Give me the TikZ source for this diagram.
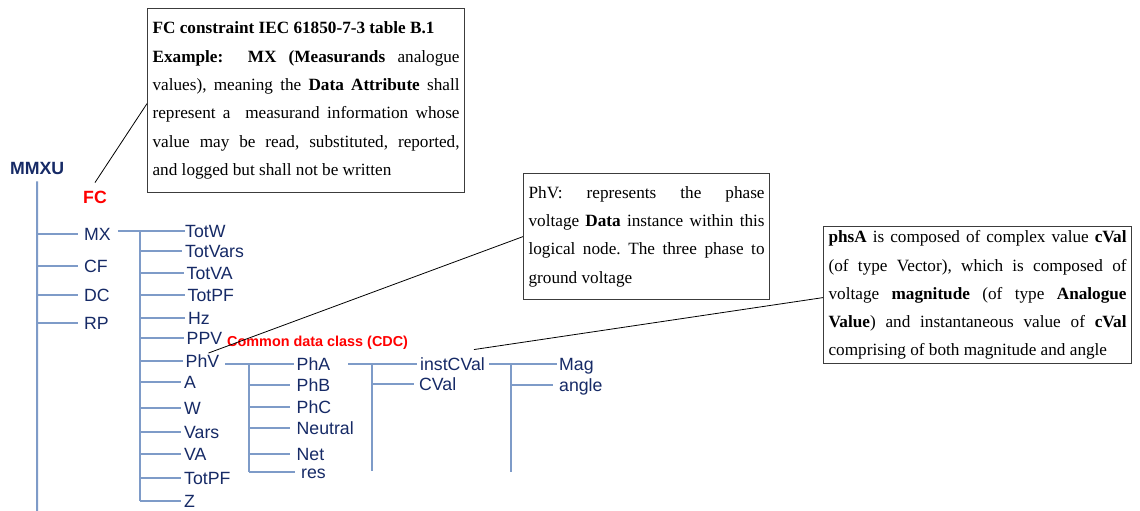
\documentclass[tikz,border=0pt]{standalone}
\usepackage{fontspec}
\setmainfont{Liberation Serif}
\setsansfont{Liberation Sans}
\definecolor{navy}{RGB}{22,42,102}
\definecolor{branch}{RGB}{126,155,200}
\definecolor{boxline}{RGB}{60,60,60}
\newcommand{\treefont}{\sffamily\fontsize{17.7}{20}\selectfont}
\newcommand{\cdcfont}{\sffamily\bfseries\fontsize{14.4}{16}\selectfont}
\newcommand{\boxfont}{\fontsize{17.2}{28.3}\selectfont\frenchspacing\tolerance=9999\hbadness=10000}
\tikzset{
  lbl/.style={font=\treefont, text=navy, inner sep=0pt, anchor=west,
              text height=12.5pt, text depth=0pt},
  br/.style={draw=branch, line width=2pt},
  lead/.style={draw=black, line width=0.8pt},
  note/.style={draw=boxline, line width=1.2pt, anchor=north west, align=justify,
               font=\boxfont, inner xsep=5pt, inner ysep=0pt},
}
\begin{document}
\begin{tikzpicture}[x=1pt,y=-1pt]
\fill[white] (0,0) rectangle (1140,511);
\useasboundingbox (0,0) rectangle (1140,511);

% root and function constraints
\node[lbl, font=\treefont\bfseries] (MMXU) at (10,168) {MMXU};
\node[lbl, font=\treefont\bfseries, text=red] (FC) at (83,197) {FC};
\node[lbl] (MX) at (84,234) {MX};
\node[lbl] (CF) at (84,266) {CF};
\node[lbl] (DC) at (84,295) {DC};
\node[lbl] (RP) at (84,323) {RP};

% data objects under MX
\node[lbl] (TotW)    at (185,231) {TotW};
\node[lbl] (TotVars) at (185,251) {TotVars};
\node[lbl] (TotVA)   at (186.5,273) {TotVA};
\node[lbl] (TotPF)   at (187.5,295) {TotPF};
\node[lbl] (Hz)      at (188,318) {Hz};
\node[lbl] (PPV)     at (186.5,338) {PPV};
\node[lbl] (PhV)     at (185.5,361) {PhV};
\node[lbl] (A)       at (184,382) {A};
\node[lbl] (W)       at (184,408) {W};
\node[lbl] (Vars)    at (184,432) {Vars};
\node[lbl] (VA)      at (184,454) {VA};
\node[lbl] (TotPFb)  at (184,478) {TotPF};
\node[lbl] (Z)       at (184,501) {Z};

% common data class label
\node[font=\cdcfont, text=red, inner sep=0pt, anchor=west] (cdc) at (227,343) {Common data class (CDC)};

% phases under PhV
\node[lbl] (PhA)     at (296.5,364) {PhA};
\node[lbl] (PhB)     at (296.5,385) {PhB};
\node[lbl] (PhC)     at (296.5,407) {PhC};
\node[lbl] (Neutral) at (296.5,428) {Neutral};
\node[lbl] (Net)     at (296.5,454) {Net};
\node[lbl] (res)     at (301,472) {res};

% attributes under PhA
\node[lbl] (instCVal) at (420,364) {instCVal};
\node[lbl] (CVal)     at (419,384) {CVal};
\node[lbl] (Mag)      at (559,364) {Mag};
\node[lbl] (angle)    at (559,385) {angle};

% tree trunks
\coordinate (v1)    at (37,0);
\coordinate (bot1)  at (37,511);
\coordinate (v2)    at (140,0);
\coordinate (v3)    at (249,0);
\coordinate (v4)    at (372,0);
\coordinate (bot4)  at (372,471);
\coordinate (v5)    at (511,0);
\coordinate (bot5)  at (511,472);

\draw[br] ([yshift=-7pt]MMXU.south) -- (bot1);
\foreach \n in {MX,CF,DC,RP}
  \draw[br] (v1 |- \n.west) -- ([xshift=-6pt]\n.west);

\draw[br] ([xshift=7pt]MX.east |- TotW.west) -- (TotW.west);
\draw[br] (v2 |- TotW.west) -- (v2 |- Z.west);
\foreach \n in {TotVars,TotVA,TotPF,Hz,PPV,PhV,A,W,Vars,VA,TotPFb,Z}
  \draw[br] (v2 |- \n.west) -- ([xshift=-3pt]\n.west);

\draw[br] ([xshift=6pt]PhV.east |- PhA.west) -- ([xshift=-3pt]PhA.west);
\draw[br] (v3 |- PhA.west) -- (v3 |- res.west);
\foreach \n in {PhB,PhC,Neutral,Net,res}
  \draw[br] (v3 |- \n.west) -- ([xshift=-6.5pt]\n.west);

\draw[br] ([xshift=18pt]PhA.east |- instCVal.west) -- ([xshift=-3pt]instCVal.west);
\draw[br] (v4 |- instCVal.west) -- (bot4);
\draw[br] (v4 |- CVal.west) -- ([xshift=-5pt]CVal.west);

\draw[br] ([xshift=4pt]instCVal.east |- Mag.west) -- ([xshift=-2pt]Mag.west);
\draw[br] (v5 |- Mag.west) -- (bot5);
\draw[br] (v5 |- angle.west) -- ([xshift=-6pt]angle.west);

% explanatory notes
\node[note, text width=307pt, minimum height=184pt] (fcbox) at (147,8)
  {\textbf{FC constraint IEC 61850-7-3 table B.1}\\
   \textbf{Example:\ \ MX (Measurands} analogue\linebreak
   values), meaning the \textbf{Data Attribute} shall\linebreak
   represent a\ \ measurand information whose\linebreak
   value may be read, substituted, reported,\linebreak
   and logged but shall not be written};

\node[note, text width=236pt, minimum height=126pt] (phvbox) at (523,173)
  {PhV: represents the phase\linebreak
   voltage \textbf{Data} instance within this\linebreak
   logical node. The three phase to\linebreak
   ground voltage};

\node[note, text width=298pt, minimum height=137pt] (phsabox) at (823,226)
  {\textbf{phsA} is composed of complex value \textbf{cVal}\linebreak
   (of type Vector), which is composed of\linebreak
   voltage \textbf{magnitude} (of type \textbf{Analogue}\linebreak
   \textbf{Value}) and instantaneous value of \textbf{cVal}\linebreak
   comprising of both magnitude and angle};

% leader lines
\draw[lead] ([yshift=8pt]FC.north) -- ([yshift=-3pt]fcbox.west);
\draw[lead] ([xshift=6pt,yshift=1.5pt]PhV.north) -- (phvbox.west);
\draw[lead] ([xshift=-11pt,yshift=8pt]instCVal.north east) -- ([yshift=-2.5pt]phsabox.west);
\end{tikzpicture}
\end{document}
